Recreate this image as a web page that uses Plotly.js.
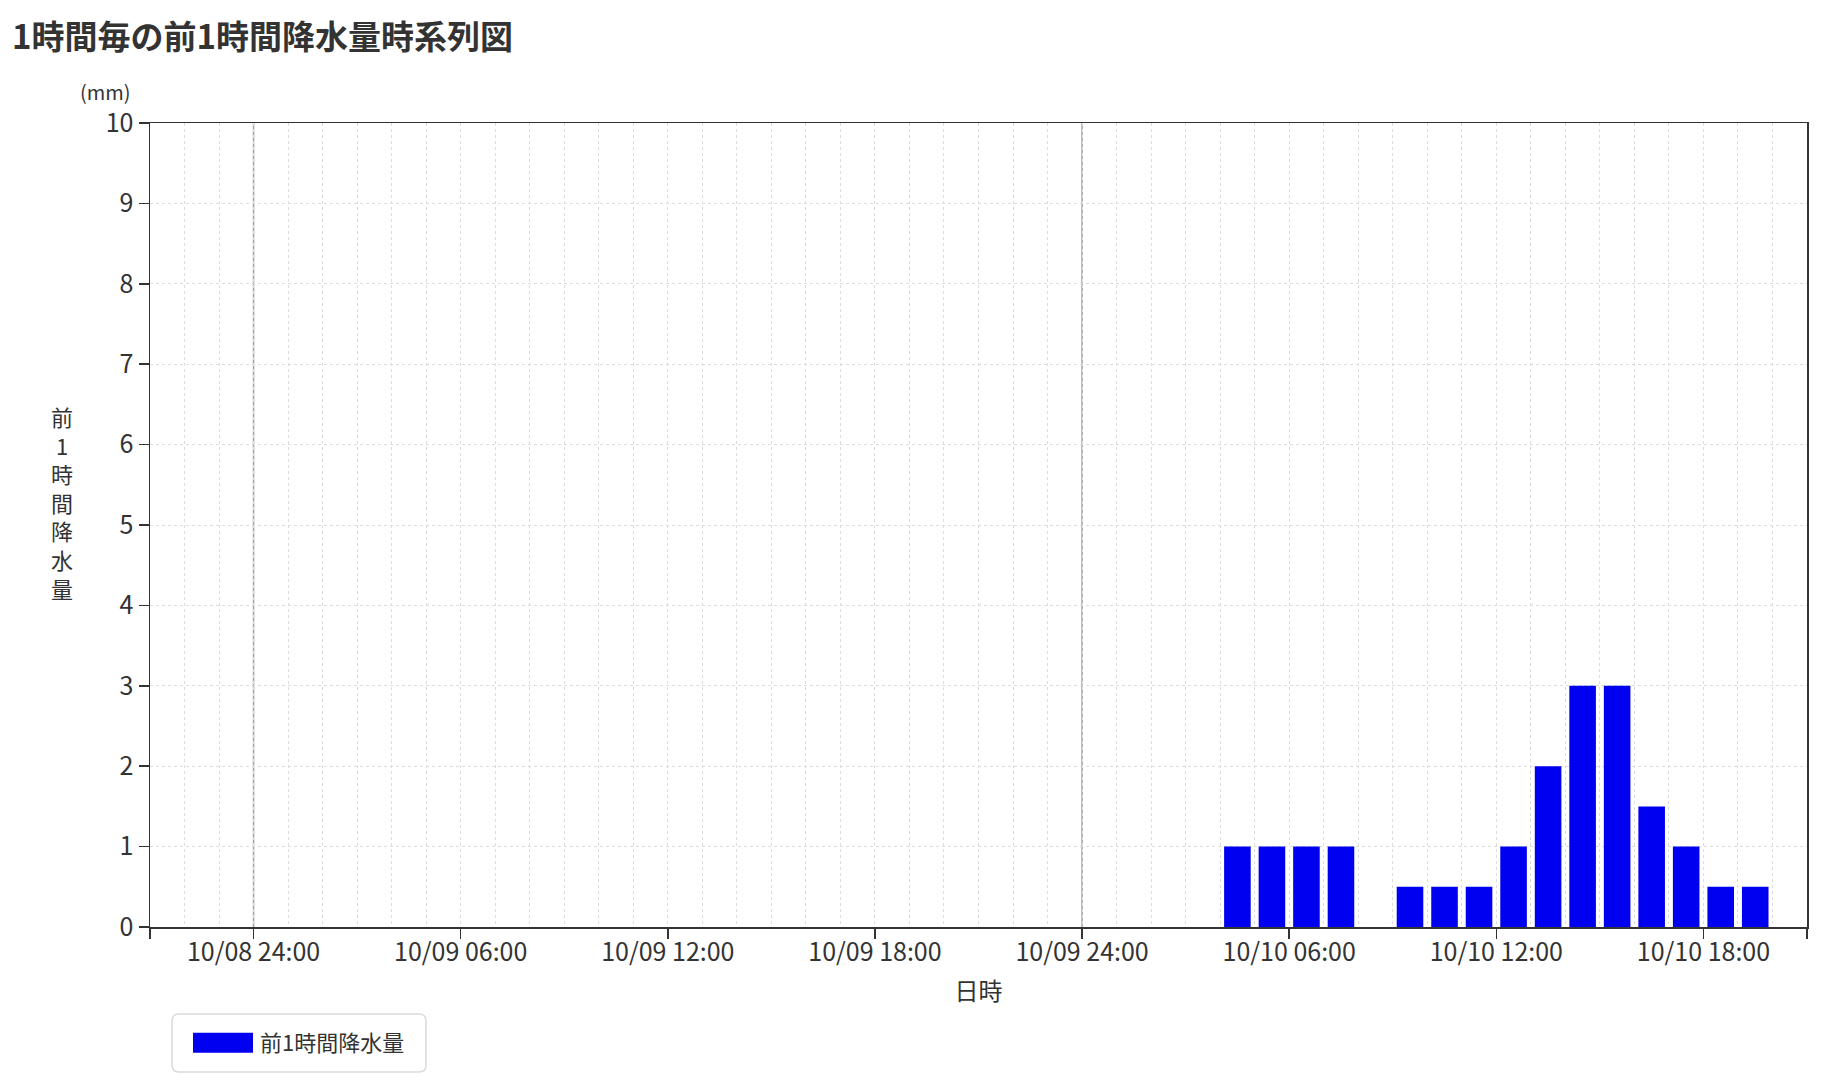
<!DOCTYPE html>
<html lang="ja">
<head>
    <meta charset="UTF-8">
    <title>1時間毎の前1時間降水量時系列図</title>
    <script src="https://cdn.plot.ly/plotly-3.0.1.min.js"></script>
    <style>
        body { margin: 0; background: #fff; }
        #chart { width: 1839px; height: 1089px; }
    </style>
</head>
<body>
<div id="chart"></div>
<script>
    // hour-ending times (前1時間 = the hour before each time)
    var hourEnds = [
        '2019-10-08 22:00', '2019-10-08 23:00', '2019-10-09 00:00', '2019-10-09 01:00',
        '2019-10-09 02:00', '2019-10-09 03:00', '2019-10-09 04:00', '2019-10-09 05:00',
        '2019-10-09 06:00', '2019-10-09 07:00', '2019-10-09 08:00', '2019-10-09 09:00',
        '2019-10-09 10:00', '2019-10-09 11:00', '2019-10-09 12:00', '2019-10-09 13:00',
        '2019-10-09 14:00', '2019-10-09 15:00', '2019-10-09 16:00', '2019-10-09 17:00',
        '2019-10-09 18:00', '2019-10-09 19:00', '2019-10-09 20:00', '2019-10-09 21:00',
        '2019-10-09 22:00', '2019-10-09 23:00', '2019-10-10 00:00', '2019-10-10 01:00',
        '2019-10-10 02:00', '2019-10-10 03:00', '2019-10-10 04:00', '2019-10-10 05:00',
        '2019-10-10 06:00', '2019-10-10 07:00', '2019-10-10 08:00', '2019-10-10 09:00',
        '2019-10-10 10:00', '2019-10-10 11:00', '2019-10-10 12:00', '2019-10-10 13:00',
        '2019-10-10 14:00', '2019-10-10 15:00', '2019-10-10 16:00', '2019-10-10 17:00',
        '2019-10-10 18:00', '2019-10-10 19:00', '2019-10-10 20:00'
    ];
    var rain = [
        0, 0, 0, 0,
        0, 0, 0, 0,
        0, 0, 0, 0,
        0, 0, 0, 0,
        0, 0, 0, 0,
        0, 0, 0, 0,
        0, 0, 0, 0,
        0, 0, 0, 1,
        1, 1, 1, 0,
        0.5, 0.5, 0.5, 1,
        2, 3, 3, 1.5,
        1, 0.5, 0.5
    ];

    var xRange = ['2019-10-08 21:00', '2019-10-10 21:00'];
    var tickVals = [
        '2019-10-08 21:00', '2019-10-09 00:00', '2019-10-09 06:00', '2019-10-09 12:00',
        '2019-10-09 18:00', '2019-10-10 00:00', '2019-10-10 06:00', '2019-10-10 12:00',
        '2019-10-10 18:00', '2019-10-10 21:00'
    ];
    var tickText = [
        '', '10/08 24:00', '10/09 06:00', '10/09 12:00',
        '10/09 18:00', '10/09 24:00', '10/10 06:00', '10/10 12:00',
        '10/10 18:00', ''
    ];
    var dayLines = ['2019-10-09 00:00', '2019-10-10 00:00'];

    var HOUR = 3600000;
    var FONT = '"Noto Sans CJK JP", "Noto Sans", sans-serif';
    var TXT = '#333';

    // plot area in pixels: 150..1807 x 123..927
    var PL = 150, PR = 1807, PT = 123, PB = 927;
    function X(v) { return (v - PL) / (PR - PL); }
    function Y(v) { return (PB - v) / (PB - PT); }

    function roundedRect(px, py, w, h, r) {
        return 'M' + X(px + r) + ',' + Y(py) +
            ' L' + X(px + w - r) + ',' + Y(py) +
            ' Q' + X(px + w) + ',' + Y(py) + ' ' + X(px + w) + ',' + Y(py + r) +
            ' L' + X(px + w) + ',' + Y(py + h - r) +
            ' Q' + X(px + w) + ',' + Y(py + h) + ' ' + X(px + w - r) + ',' + Y(py + h) +
            ' L' + X(px + r) + ',' + Y(py + h) +
            ' Q' + X(px) + ',' + Y(py + h) + ' ' + X(px) + ',' + Y(py + h - r) +
            ' L' + X(px) + ',' + Y(py + r) +
            ' Q' + X(px) + ',' + Y(py) + ' ' + X(px + r) + ',' + Y(py) + ' Z';
    }

    var trace = {
        type: 'bar',
        name: '前1時間降水量',
        x: hourEnds,
        y: rain,
        width: HOUR * 0.77,
        offset: -HOUR * 0.885,   // bar sits inside the hour before its time
        marker: { color: '#0000f0', line: { width: 0 } }
    };

    var shapes = dayLines.map(function (d) {
        return {
            type: 'line', xref: 'x', yref: 'paper',
            x0: d, x1: d, y0: 0, y1: 1,
            line: { color: '#a0a0a0', width: 1.5 },
            layer: 'between'
        };
    });
    shapes.push({
        // rounded legend frame
        type: 'path', xref: 'paper', yref: 'paper', layer: 'above',
        path: roundedRect(172, 1014, 254, 58, 7),
        line: { color: '#dadada', width: 1.5 },
        fillcolor: 'rgba(0,0,0,0)'
    });

    var gridStyle = { showgrid: true, gridcolor: '#dcdcdc', griddash: 'dot', gridwidth: 1 };

    var layout = {
        width: 1839,
        height: 1089,
        margin: { l: PL, r: 1839 - PR, t: PT, b: 1089 - PB },
        paper_bgcolor: '#fff',
        plot_bgcolor: '#fff',
        font: { family: FONT, color: TXT, size: 20 },
        title: {
            text: '<b>1時間毎の前1時間降水量時系列図</b>',
            x: 0.0065, xanchor: 'left',
            y: 1 - 37.5 / 1089, yanchor: 'middle',
            font: { size: 33, color: TXT }
        },
        showlegend: true,
        legend: {
            x: X(186), xanchor: 'left',
            y: Y(1022), yanchor: 'top',
            bgcolor: 'rgba(0,0,0,0)',
            borderwidth: 0,
            itemwidth: 64,
            font: { size: 22, color: TXT }
        },
        xaxis: Object.assign({
            type: 'date',
            range: xRange,
            tickmode: 'array',
            tickvals: tickVals,
            ticktext: tickText,
            ticks: 'outside',
            ticklen: 10,
            tickwidth: 1.5,
            tickcolor: TXT,
            tickfont: { size: 25, color: TXT },
            ticklabelstandoff: -8,
            showline: true,
            linecolor: TXT,
            linewidth: 1.5,
            mirror: true,
            minor: Object.assign({ tick0: xRange[0], dtick: HOUR, ticks: '' }, gridStyle),
            zeroline: false,
            title: { text: '日時', font: { size: 24, color: TXT }, standoff: 16 }
        }, gridStyle),
        yaxis: Object.assign({
            range: [0, 10],
            dtick: 1,
            ticks: 'outside',
            ticklen: 10,
            tickwidth: 1.5,
            tickcolor: TXT,
            tickfont: { size: 25, color: TXT },
            showline: true,
            linecolor: TXT,
            linewidth: 1.5,
            mirror: true,
            zeroline: false
        }, gridStyle),
        shapes: shapes,
        annotations: [
            {
                text: '(mm)', xref: 'paper', yref: 'paper',
                x: X(105), y: Y(92), xanchor: 'center', yanchor: 'middle',
                showarrow: false, font: { size: 20, color: TXT }
            },
            {
                text: '前<br>1<br>時<br>間<br>降<br>水<br>量', xref: 'paper', yref: 'paper',
                x: X(62), y: Y(502), xanchor: 'center', yanchor: 'middle',
                showarrow: false, align: 'center',
                font: { size: 22, color: TXT }
            }
        ]
    };

    Plotly.newPlot('chart', [trace], layout, { displayModeBar: false, staticPlot: true })
        .then(function (gd) {
            // widen the legend swatch into a long bar like the original
            var item = gd.querySelector('.legend .traces');
            if (!item) return;
            var sw = item.querySelector('.legendpoints path');
            var tx = item.querySelector('text.legendtext');
            if (!sw || !tx) return;
            var s = sw.getBoundingClientRect();
            var t = tx.getBoundingClientRect();
            var cx = s.left + s.width / 2;
            var x0 = (t.left - 67) - cx, x1 = (t.left - 7) - cx;
            sw.setAttribute('d', 'M' + x0 + ',-10H' + x1 + 'V10H' + x0 + 'Z');
        });
</script>
</body>
</html>
